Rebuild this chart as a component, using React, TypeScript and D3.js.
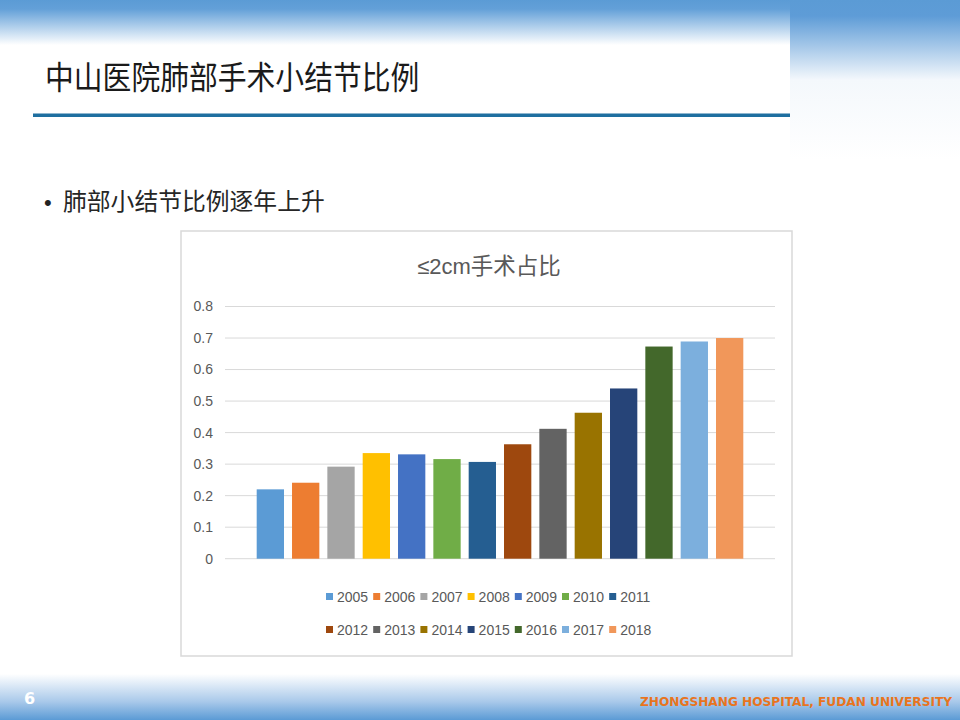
import React from "react";
import * as d3 from "d3";

const years = ["2005","2006","2007","2008","2009","2010","2011","2012","2013","2014","2015","2016","2017","2018"];
const values = [0.22,0.241,0.292,0.335,0.331,0.316,0.307,0.363,0.412,0.463,0.54,0.673,0.689,0.70];
const colors = ["#5B9BD5","#ED7D31","#A5A5A5","#FFC000","#4472C4","#70AD47","#255E91","#9E480E","#636363","#997300","#264478","#43682B","#7CAFDD","#F1975A"];
const yTicks = [0,0.1,0.2,0.3,0.4,0.5,0.6,0.7,0.8];

const slideTitle = "中山医院肺部手术小结节比例";
const bulletText = "肺部小结节比例逐年上升";
const chartTitleLatin = "≤2cm";
const chartTitleCjk = "手术占比";
const footer = "ZHONGSHANG HOSPITAL, FUDAN UNIVERSITY";
const pageNo = "6";

export default function App() {
  const plot = { left: 225, right: 775, top: 306.5, bottom: 558.7 };
  const x = d3.scaleBand<string>().domain(years).range([plot.left, plot.right]).paddingInner(0.227).paddingOuter(0.897);
  const y = d3.scaleLinear().domain([0, 0.8]).range([plot.bottom, plot.top]);
  const fmt = (v: number) => (v === 0 ? "0" : d3.format(".1f")(v));

  const perRow = 7;
  const legendX = d3.scaleBand<number>().domain(d3.range(perRow)).range([326, 326 + 7 * 47.2]);
  const legendRowY = [597, 630];
  const cjk = "'Noto Sans CJK SC', 'Noto Sans', sans-serif";
  const latin = "'Liberation Sans', Arial, sans-serif";
  const blue = "#5B9BD5";

  return (
    <svg width={960} height={720} style={{ position: "absolute", left: 0, top: 0, background: "#fff" }}>
      <defs>
        <linearGradient id="topL" x1="0" y1="0" x2="0" y2="1">
          <stop offset="0" stopColor={blue} />
          <stop offset="0.2" stopColor="#63A0D8" />
          <stop offset="1" stopColor="#ffffff" />
        </linearGradient>
        <linearGradient id="topR" x1="0" y1="0" x2="0" y2="1">
          <stop offset="0" stopColor={blue} />
          <stop offset="0.1" stopColor="#5E9CD7" />
          <stop offset="0.5" stopColor="#F4F8FC" />
          <stop offset="1" stopColor="#ffffff" />
        </linearGradient>
        <linearGradient id="bot" x1="0" y1="0" x2="0" y2="1">
          <stop offset="0" stopColor="#ffffff" />
          <stop offset="0.6" stopColor="#A9C9EA" />
          <stop offset="1" stopColor={blue} />
        </linearGradient>
      </defs>

      <rect x={0} y={0} width={960} height={720} fill="#fff" />
      <rect x={0} y={0} width={790} height={45} fill="url(#topL)" />
      <rect x={790} y={0} width={170} height={160} fill="url(#topR)" />
      <rect x={0} y={674} width={960} height={46} fill="url(#bot)" />

      <text transform="translate(45,89) scale(0.9,1)" fontFamily={cjk} fontSize={32} fill="#1a1a1a">{slideTitle}</text>
      <rect x={33} y={113.5} width={757} height={3.5} fill="#1F6FA0" />

      <text x={44} y={210} fontFamily={latin} fontSize={22} fill="#222">•</text>
      <text x={63} y={210} fontFamily={cjk} fontSize={23.8} fill="#262626">{bulletText}</text>

      <rect x={181} y={231} width={611} height={425} fill="#fff" stroke="#D9D9D9" strokeWidth={1.5} />
      <text x={489} y={274} textAnchor="middle" fill="#595959">
        <tspan fontFamily={latin} fontSize={22}>{chartTitleLatin}</tspan>
        <tspan fontFamily={cjk} fontSize={22.5}>{chartTitleCjk}</tspan>
      </text>

      {yTicks.map((t) => (
        <g key={t}>
          <line x1={plot.left} x2={plot.right} y1={y(t)} y2={y(t)} stroke="#D9D9D9" strokeWidth={1} />
          <text x={213} y={y(t)} dy="0.35em" textAnchor="end" fontFamily={latin} fontSize={14} fill="#595959">{fmt(t)}</text>
        </g>
      ))}

      {years.map((yr, i) => (
        <rect key={yr} x={x(yr)} y={y(values[i])} width={x.bandwidth()} height={y(0) - y(values[i])} fill={colors[i]} />
      ))}

      {years.map((yr, i) => {
        const row = Math.floor(i / perRow);
        const col = i % perRow;
        const lx = legendX(col) as number;
        const ly = legendRowY[row];
        return (
          <g key={"lg" + yr}>
            <rect x={lx} y={ly - 4} width={7} height={7} fill={colors[i]} />
            <text x={lx + 11} y={ly} dy="0.36em" fontFamily={latin} fontSize={14} fill="#595959">{yr}</text>
          </g>
        );
      })}

      <text x={24} y={704} fontFamily="'DejaVu Sans', sans-serif" fontWeight="bold" fontSize={16} fill="#fff">{pageNo}</text>
      <text x={640} y={706} fontFamily="'DejaVu Sans Condensed', 'DejaVu Sans', sans-serif" fontWeight="bold" fontSize={13} fill="#E8741E" textLength={312} lengthAdjust="spacingAndGlyphs">{footer}</text>
    </svg>
  );
}
